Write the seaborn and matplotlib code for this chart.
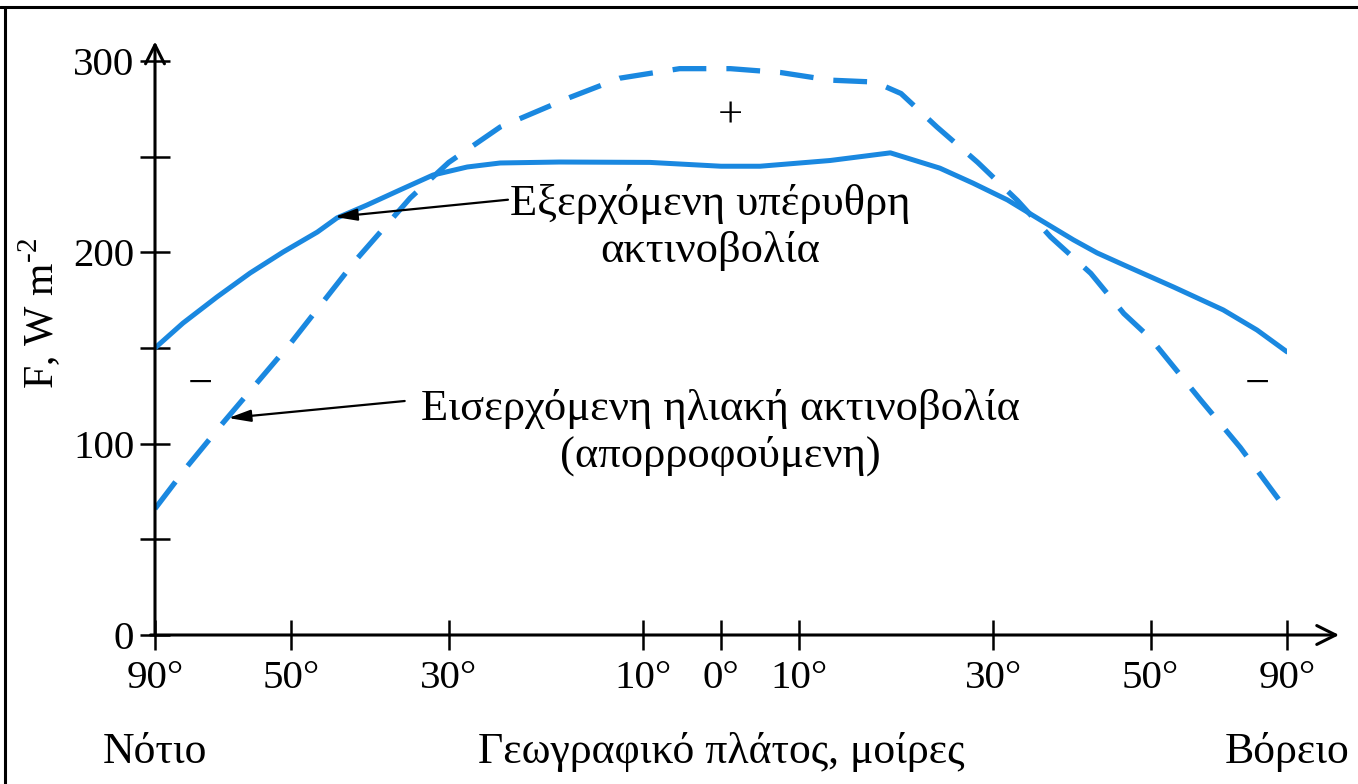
"""
Ισοζύγιο ακτινοβολίας ανά γεωγραφικό πλάτος: εισερχόμενη ηλιακή (απορροφούμενη)
και εξερχόμενη υπέρυθρη ακτινοβολία.
"""

import matplotlib
matplotlib.use("Agg")
import matplotlib.pyplot as plt
import matplotlib.ticker as mticker
import numpy as np
import seaborn as sns
from matplotlib.lines import Line2D
from matplotlib.transforms import blended_transform_factory

# ---------------------------------------------------------------------------
# Data
# ---------------------------------------------------------------------------
# Outgoing infrared radiation (solid line), latitude in degrees (S < 0)
ir_lat = [-90, -81.8, -71.8, -62.1, -52.4, -46.7, -44.2, -40.4, -36.2, -32,
          -28.1, -24.7, -18.6, -9.1, 0, 5, 13.2, 19.4, 24.5, 27.9, 31.8, 36,
          40.2, 43.2, 46.6, 56.7, 71.3, 81.2, 90]
ir_flux = [150, 163, 176.7, 189.2, 200.2, 210.6, 218, 224.7, 232.6, 240.4,
           244.6, 246.7, 247.2, 247, 245, 245, 248, 252, 244, 236.2, 227.4, 216.9,
           206.5, 199.7, 193.4, 181.9, 169.9, 159.4, 148]

# Absorbed solar radiation (dashed line)
sw_lat = [-90, -80.6, -70, -60, -50, -41.8, -34.9, -30, -24.7, -17.5, -12.4,
          -5.3, 1.2, 7.6, 13.2, 17.8, 20.5, 24.2, 28.4, 33.1, 37.3, 42.4,
          46.6, 50, 64.6, 76.3, 90]
sw_flux = [66, 88, 111, 132, 153, 196, 228.4, 247, 265.5, 281, 291,
           296, 296, 294, 290, 289, 283, 265.5, 247, 227, 208, 189,
           168, 155, 123, 98, 65]

x_ticks = [-90, -50, -30, -10, 0, 10, 30, 50, 90]
x_tick_labels = ["90°", "50°", "30°", "10°", "0°", "10°", "30°", "50°", "90°"]
y_major = [0, 100, 200, 300]
y_minor = [50, 150, 250]

# where each latitude tick sits along the axis (-1 .. 1), as drawn in the figure
TICK_FRAC = [-1.0, -0.759, -0.481, -0.138, 0.0, 0.138, 0.481, 0.759, 1.0]

BLUE = "#1a88e0"
FS_TICK = 29.5
FS_NOTE = 32
FS_AXIS = 31.5


def lat_fwd(v):
    return np.interp(v, x_ticks, TICK_FRAC)


def lat_inv(v):
    return np.interp(v, TICK_FRAC, x_ticks)


def main():
    sns.set_theme(style="white")
    plt.rcParams["font.family"] = ["Liberation Serif", "DejaVu Serif"]
    plt.rcParams["mathtext.fontset"] = "custom"
    plt.rcParams["mathtext.rm"] = "Liberation Serif"
    plt.rcParams["text.color"] = "black"
    plt.rcParams["axes.labelcolor"] = "black"

    fig = plt.figure(figsize=(13.58, 7.84), dpi=100)
    ax = fig.add_axes([155 / 1358, 149 / 784, 1132 / 1358, 574 / 784])

    sns.lineplot(x=ir_lat, y=ir_flux, ax=ax, color=BLUE, lw=3.6,
                 solid_capstyle="round", solid_joinstyle="round")
    sns.lineplot(x=sw_lat, y=sw_flux, ax=ax, color=BLUE, lw=3.8,
                 linestyle=(0, (6.4, 3.8)))

    ax.set_xscale("function", functions=(lat_fwd, lat_inv))
    ax.set_xlim(-90, 90)
    ax.set_ylim(0, 300)

    ax.set_xticks(x_ticks)
    ax.set_xticklabels(x_tick_labels)
    ax.xaxis.set_minor_locator(mticker.NullLocator())
    ax.set_yticks(y_major)
    ax.yaxis.set_minor_locator(mticker.FixedLocator(y_minor))
    ax.tick_params(axis="both", which="both", direction="inout", length=22,
                   width=1.8, color="black", labelsize=FS_TICK,
                   labelcolor="black", bottom=True, left=True)
    ax.tick_params(axis="x", pad=7)
    ax.tick_params(axis="y", pad=4)

    for s in ax.spines.values():
        s.set_visible(False)
    ax.grid(False)

    # axes drawn as arrows
    arrow = dict(arrowstyle="->", lw=2.2, color="black", mutation_scale=34,
                 shrinkA=0, shrinkB=0)
    ax.annotate("", xy=(0, 1.034), xytext=(0, 0), xycoords="axes fraction",
                textcoords="axes fraction", arrowprops=arrow, annotation_clip=False)
    ax.annotate("", xy=(1.046, 0), xytext=(-0.004, 0), xycoords="axes fraction",
                textcoords="axes fraction", arrowprops=arrow, annotation_clip=False)

    # labels on the curves
    pointer = dict(arrowstyle="-|>,head_length=0.75,head_width=0.2", lw=1.6,
                   color="black", shrinkA=0, shrinkB=0, mutation_scale=18)
    ax.text(-1.4, 213, "Εξερχόμενη υπέρυθρη\nακτινοβολία", fontsize=FS_NOTE,
            ha="center", va="center", multialignment="center")
    ax.annotate("", xy=(-44.5, 218.5), xytext=(-23.9, 227.5), arrowprops=pointer)

    ax.text(-0.1, 106, "Εισερχόμενη ηλιακή ακτινοβολία\n(απορροφούμενη)",
            fontsize=FS_NOTE, ha="center", va="center", multialignment="center")
    ax.annotate("", xy=(-68.5, 113.4), xytext=(-35.6, 122.3), arrowprops=pointer)

    ax.text(1.2, 271, "+", fontsize=FS_NOTE, ha="center", va="center")
    ax.text(-76.8, 131, "−", fontsize=FS_NOTE, ha="center", va="center")
    ax.text(81.2, 131, "−", fontsize=FS_NOTE, ha="center", va="center")

    # axis titles
    fig.text(40 / 1358, 1 - 313 / 784, r"F, W m$^{\text{-2}}$",
             fontsize=30, rotation=90, ha="center", va="center")
    bottom = blended_transform_factory(ax.transData, fig.transFigure)
    ax.text(-90, 0.041, "Νότιο", transform=bottom, fontsize=FS_AXIS,
            ha="center", va="center")
    ax.text(0, 0.041, "Γεωγραφικό πλάτος, μοίρες", transform=bottom,
            fontsize=FS_AXIS, ha="center", va="center")
    ax.text(90, 0.041, "Βόρειο", transform=bottom, fontsize=FS_AXIS,
            ha="center", va="center")

    # page frame (left and top edge of the scanned box)
    fig.add_artist(Line2D([0.0037, 0.0037], [0, 0.991], transform=fig.transFigure,
                          color="black", lw=2.2))
    fig.add_artist(Line2D([0, 1], [0.991, 0.991], transform=fig.transFigure,
                          color="black", lw=2.2))

    fig.savefig("out.png", dpi=100)
    plt.close(fig)


if __name__ == "__main__":
    main()
